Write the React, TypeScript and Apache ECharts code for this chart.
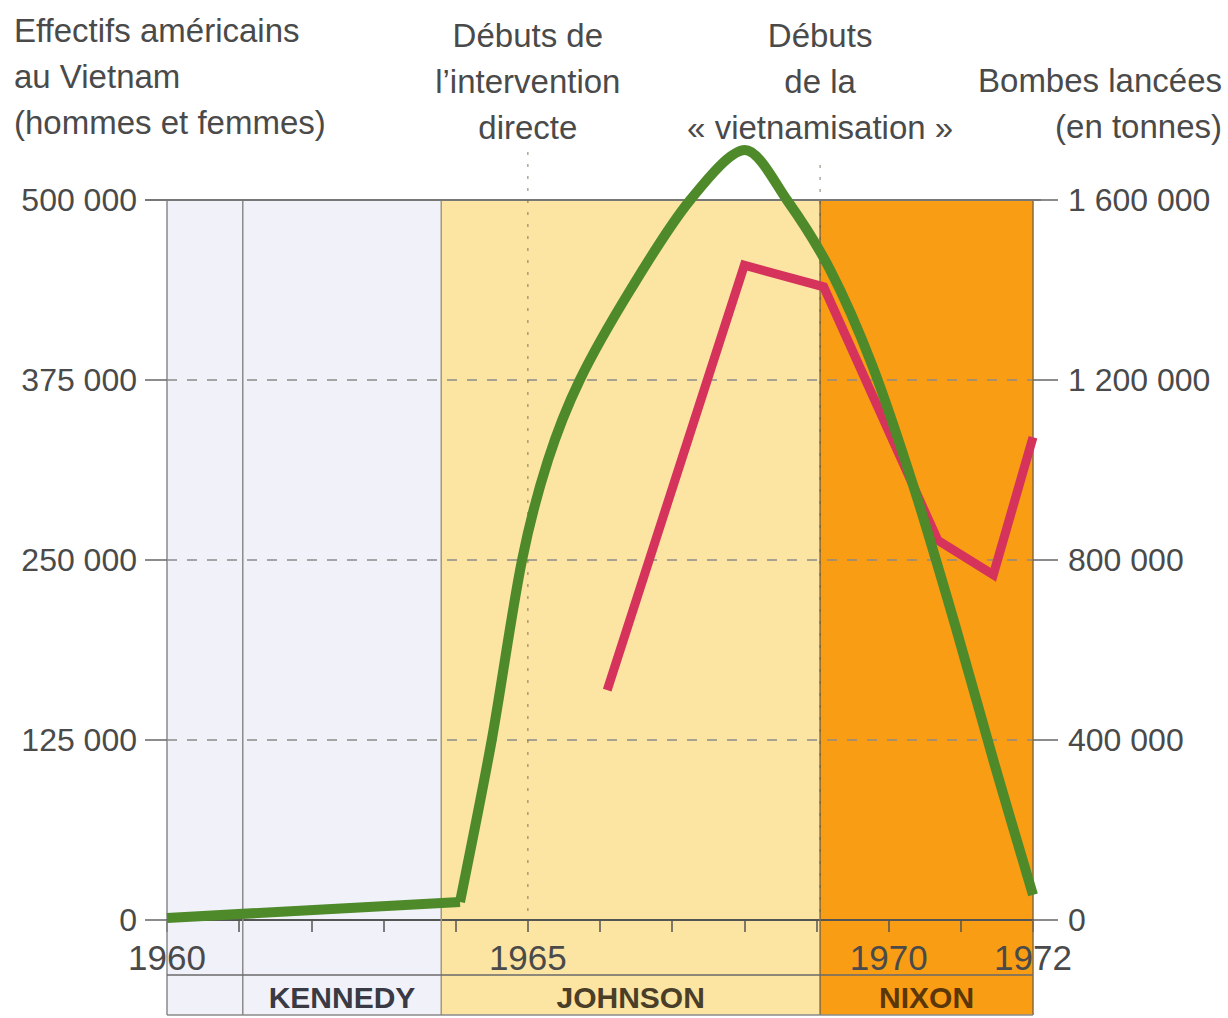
import React, { useEffect, useRef } from 'react';
import * as echarts from 'echarts';

// ---- data ----
const troopsEarly: [number, number][] = [[1960, 1400], [1964.06, 12500]];
const troopsWar: [number, number][] = [
  [1964.06, 12500], [1964.5, 125000], [1964.92, 250000], [1965.28, 319400], [1965.72, 375000],
  [1966.42, 437500], [1967.25, 500000], [1968.01, 534700], [1968.59, 500000], [1969.19, 451400],
  [1969.77, 385400], [1970.36, 298600], [1970.92, 204900], [1971.47, 107600], [1972, 17400],
];
const bombs: [number, number][] = [
  [1966.1, 511000], [1968, 1455000], [1969.1, 1407000], [1970.68, 844000], [1971.45, 767000], [1972, 1073000],
];
const xLabelYears = [1960, 1965, 1970, 1972];
const presidents = ['', 'KENNEDY', 'JOHNSON', 'NIXON'];
const periodStarts = [1960, 1961.05, 1963.8, 1969.05];
const periodEnd = 1972;
const annotations = [
  { year: 1965, text: 'Débuts de\nl’intervention\ndirecte' },
  { year: 1969.05, text: 'Débuts\nde la\n« vietnamisation »' },
];
const leftTitle = 'Effectifs américains\nau Vietnam\n(hommes et femmes)';
const rightTitle = 'Bombes lancées\n(en tonnes)';

const FONT = '"Liberation Sans", Arial, sans-serif';
const TEXT = '#4a4a4a';
const bandColors = ['#F1F1FA', '#F1F1FA', '#FCE4A2', '#F89D14'];
const sepColors = ['#8a8a8a', '#8a8a8a', '#a09a80', '#8a6a3a'];
const presColors = ['#333', '#3a3a44', '#4a3e28', '#5a3608'];

const fmt = (v: number) => String(Math.round(v)).replace(/\B(?=(\d{3})+(?!\d))/g, ' ');

export default function App() {
  const ref = useRef<HTMLDivElement>(null);
  useEffect(() => {
    document.body.style.margin = '0';
    const chart = echarts.init(ref.current!, null, { renderer: 'svg' });
    const option: any = {
      animation: false,
      backgroundColor: '#ffffff',
      grid: { left: 167, right: 195, top: 200, bottom: 98, outerBoundsMode: 'none' },
      xAxis: {
        type: 'value', min: 1960, max: 1972, interval: 1,
        axisLine: { show: true, lineStyle: { color: '#555', width: 2 } },
        axisTick: { show: true, length: 12, lineStyle: { color: '#555', width: 1.5 } },
        splitLine: { show: false },
        axisLabel: {
          margin: 20, fontSize: 35, fontFamily: FONT, color: TEXT,
          formatter: (v: number) => (xLabelYears.includes(Math.round(v)) ? String(Math.round(v)) : ''),
        },
      },
      yAxis: [
        {
          type: 'value', min: 0, max: 500000, interval: 125000, position: 'left',
          axisLine: { show: true, lineStyle: { color: '#8a8a8a', width: 1.5 } },
          axisTick: { show: true, length: 22, lineStyle: { color: '#666', width: 1.5 } },
          splitLine: { show: true, lineStyle: { color: '#8a8a8a', width: 1.5, type: [10, 10] } },
          axisLabel: { margin: 30, fontSize: 32, fontFamily: FONT, color: TEXT, formatter: fmt },
        },
        {
          type: 'value', min: 0, max: 1600000, interval: 400000, position: 'right',
          axisLine: { show: true, lineStyle: { color: '#8a6a3a', width: 1.5 } },
          axisTick: { show: true, length: 25, lineStyle: { color: '#666', width: 1.5 } },
          splitLine: { show: false },
          axisLabel: { margin: 35, fontSize: 32, fontFamily: FONT, color: TEXT, formatter: fmt },
        },
      ],
      series: [
        {
          type: 'line', name: 'troops-early', data: troopsEarly, yAxisIndex: 0, symbol: 'none', clip: false,
          lineStyle: { color: '#4E8A2A', width: 10, join: 'round' }, z: 3,
        },
        {
          type: 'line', name: 'troops', data: troopsWar, yAxisIndex: 0, symbol: 'none', smooth: 0.3, clip: false,
          lineStyle: { color: '#4E8A2A', width: 10, join: 'round' }, z: 3,
        },
        {
          type: 'line', name: 'bombs', data: bombs, yAxisIndex: 1, symbol: 'none', clip: false,
          lineStyle: { color: '#D6335C', width: 9, join: 'miter' }, z: 2,
        },
      ],
    };
    chart.setOption(option);

    const px = (v: number) => chart.convertToPixel({ xAxisIndex: 0 }, v) as number;
    const py = (v: number) => chart.convertToPixel({ yAxisIndex: 0 }, v) as number;
    const topY = py(500000);
    const axisY = py(0);
    const rowY = axisY + 55;
    const bottomY = axisY + 95;
    const g: any[] = [];
    periodStarts.forEach((s, i) => {
      const e = i < periodStarts.length - 1 ? periodStarts[i + 1] : periodEnd;
      g.push({
        type: 'rect', z: -1, silent: true,
        shape: { x: px(s), y: topY, width: px(e) - px(s), height: bottomY - topY },
        style: { fill: bandColors[i] },
      });
      if (i > 0) {
        g.push({
          type: 'line', z: 1, silent: true,
          shape: { x1: px(s), y1: topY, x2: px(s), y2: bottomY },
          style: { stroke: sepColors[i], lineWidth: 1.5 },
        });
      }
      if (presidents[i]) {
        g.push({
          type: 'text', z: 5, silent: true,
          x: (px(s) + px(e)) / 2, y: (rowY + bottomY) / 2 + 2,
          style: {
            text: presidents[i], fontFamily: FONT, fontSize: 30, fontWeight: 'bold',
            fill: presColors[i], align: 'center', verticalAlign: 'middle',
          },
        });
      }
    });
    g.push({ type: 'line', z: 1, shape: { x1: px(1960), y1: axisY, x2: px(1960), y2: bottomY }, style: { stroke: '#8a8a8a', lineWidth: 1.5 } });
    g.push({ type: 'line', z: 1, shape: { x1: px(periodEnd), y1: axisY, x2: px(periodEnd), y2: bottomY }, style: { stroke: '#8a6a3a', lineWidth: 1.5 } });
    g.push({ type: 'line', z: 1, shape: { x1: 145, y1: topY, x2: px(periodEnd) + 8, y2: topY }, style: { stroke: '#777', lineWidth: 2 } });
    g.push({ type: 'line', z: 1, shape: { x1: px(1960), y1: rowY, x2: px(periodEnd), y2: rowY }, style: { stroke: '#6a6a6a', lineWidth: 1.5 } });
    g.push({ type: 'line', z: 1, shape: { x1: px(1960), y1: bottomY, x2: px(periodEnd), y2: bottomY }, style: { stroke: '#8a8a8a', lineWidth: 1.5 } });
    annotations.forEach((a, i) => {
      const x = px(a.year);
      g.push({
        type: 'line', z: 1, silent: true,
        shape: { x1: x, y1: i === 0 ? 152 : 165, x2: x, y2: axisY },
        style: { stroke: 'rgba(110,95,70,0.55)', lineWidth: 1.5, lineDash: [3, 9] },
      });
      g.push({
        type: 'text', z: 5, silent: true, x, y: 12,
        style: {
          text: a.text, fontFamily: FONT, fontSize: 33, lineHeight: 46,
          fill: TEXT, align: 'center', verticalAlign: 'top',
        },
      });
    });
    g.push({
      type: 'text', z: 5, x: 14, y: 7,
      style: { text: leftTitle, fontFamily: FONT, fontSize: 33, lineHeight: 46, fill: TEXT, align: 'left', verticalAlign: 'top' },
    });
    g.push({
      type: 'text', z: 5, x: 1222, y: 57,
      style: { text: rightTitle, fontFamily: FONT, fontSize: 33, lineHeight: 46, fill: TEXT, align: 'right', verticalAlign: 'top' },
    });
    chart.setOption({ graphic: g });
    return () => chart.dispose();
  }, []);
  return <div ref={ref} style={{ width: 1228, height: 1018 }} />;
}
